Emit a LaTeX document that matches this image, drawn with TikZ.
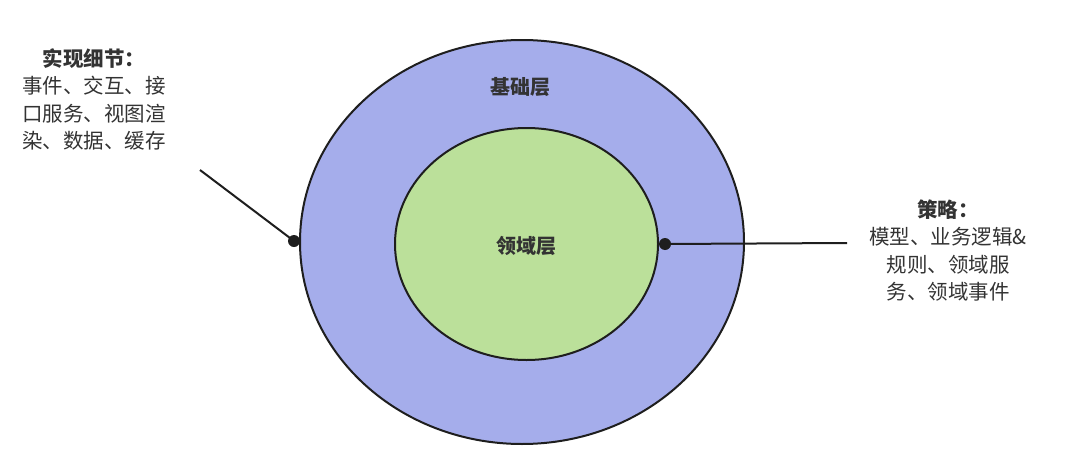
\documentclass[tikz,border=0pt]{standalone}
\usepackage{fontspec}
\setmainfont{Noto Sans CJK SC}
\usetikzlibrary{arrows.meta, positioning, calc}
\definecolor{baseblue}{HTML}{A5ADEB}
\definecolor{domaingreen}{HTML}{BBE09A}
\definecolor{inkgray}{HTML}{333333}
\definecolor{edgegray}{HTML}{1E1E1E}
\tikzset{
  layerlabel/.style={font=\fontsize{20}{24}\selectfont\bfseries, text=inkgray},
  notetext/.style={font=\fontsize{20.5}{27.5}\selectfont, text=inkgray, align=center},
  pin/.style={fill=edgegray, draw=none},
}
\begin{document}
\begin{tikzpicture}[x=1pt, y=-1pt]
  \useasboundingbox (0,0) rectangle (1080,458);
  % layers
  \draw[line width=2pt, draw=edgegray, fill=baseblue] (522,242) ellipse [x radius=222, y radius=202];
  \draw[line width=2pt, draw=edgegray, fill=domaingreen] (526.5,244) ellipse [x radius=131.5, y radius=116];
  \node[layerlabel] (base) at (520,87) {基础层};
  \node[layerlabel] (domain) at (526,246) {领域层};
  % notes
  \node[notetext, anchor=north] (impl) at (94,45) {{\bfseries 实现细节：}\\事件、交互、接\\口服务、视图渲\\染、数据、缓存};
  \node[notetext, anchor=north] (policy) at (948,196) {{\bfseries 策略：}\\模型、业务逻辑\&\\规则、领域服\\务、领域事件};
  % pins
  \coordinate (implend) at (200,170);
  \coordinate (implpin) at (294,241);
  \coordinate (policyend) at (847,243);
  \coordinate (policypin) at (665,244);
  \draw[line width=2pt, edgegray] (implend) -- (implpin);
  \draw[line width=2pt, edgegray] (policypin) -- (policyend);
  \fill[pin] (implpin) circle (6);
  \fill[pin] (policypin) circle (6);
\end{tikzpicture}
\end{document}
